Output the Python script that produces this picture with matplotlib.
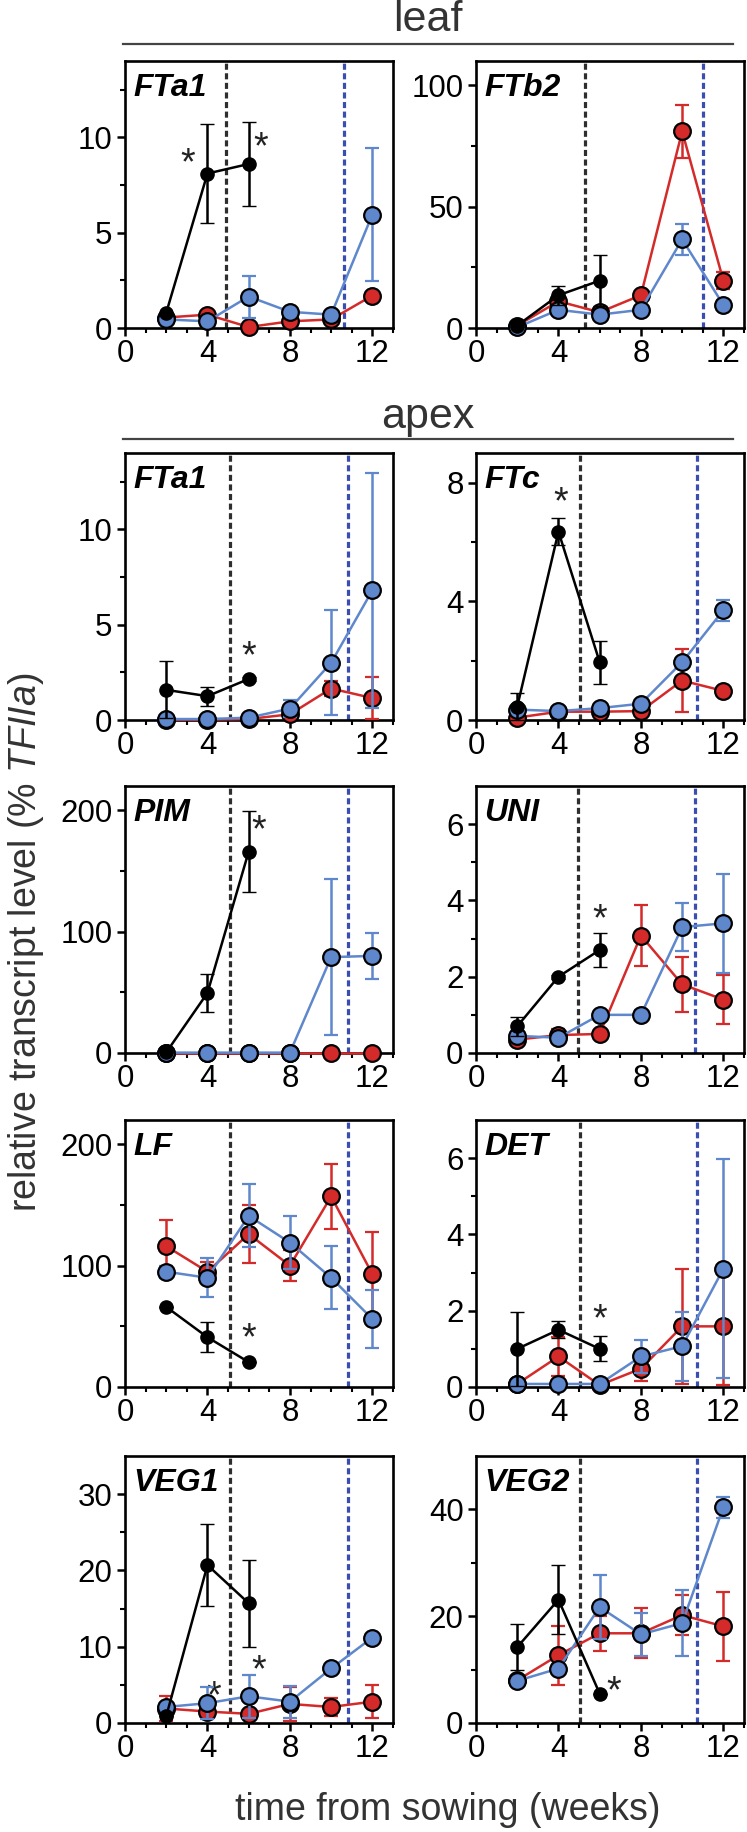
import matplotlib
matplotlib.use("Agg")
import matplotlib.pyplot as plt
import numpy as np

plt.rcParams['font.family'] = ['Liberation Sans', 'DejaVu Sans']
plt.rcParams['mathtext.fontset'] = 'custom'
plt.rcParams['mathtext.it'] = 'Liberation Sans:italic'
plt.rcParams['mathtext.rm'] = 'Liberation Sans'

weeks = [2, 4, 6, 8, 10, 12]
early_weeks = [2, 4, 6]

# leaf FTa1
leaf_fta1_black = [0.8, 8.1, 8.6]
leaf_fta1_black_err = [0, 2.6, 2.2]
leaf_fta1_red = [0.55, 0.7, 0.05, 0.35, 0.45, 1.7]
leaf_fta1_red_err = [0.1, 0.1, 0.05, 0.1, 0.1, 0.1]
leaf_fta1_blue = [0.45, 0.35, 1.65, 0.85, 0.7, 5.95]
leaf_fta1_blue_err = [0.1, 0.1, 1.1, 0.1, 0.1, 3.5]

# leaf FTb2
leaf_ftb2_black = [1, 13.5, 19.5]
leaf_ftb2_black_err = [0.5, 4, 10.5]
leaf_ftb2_red = [1, 11, 6.5, 13.5, 81, 19.5]
leaf_ftb2_red_err = [0.5, 1.5, 1, 1, 11, 3.5]
leaf_ftb2_blue = [0.3, 7.5, 5.5, 7.5, 36.5, 9.5]
leaf_ftb2_blue_err = [0.3, 1.5, 1, 1, 6.3, 2]

# apex FTa1
apex_fta1_black = [1.58, 1.25, 2.15]
apex_fta1_black_err = [1.5, 0.5, 0.1]
apex_fta1_red = [0.02, 0.02, 0.05, 0.3, 1.65, 1.15]
apex_fta1_red_err = [0, 0, 0, 0.1, 0.4, 1.1]
apex_fta1_blue = [0.05, 0.05, 0.12, 0.6, 3.0, 6.8]
apex_fta1_blue_err = [0, 0, 0.05, 0.45, 2.75, 6.15]

# apex FTc
ftc_black = [0.45, 6.35, 1.95]
ftc_black_err = [0.45, 0.45, 0.72]
ftc_red = [0.08, 0.28, 0.28, 0.3, 1.33, 0.98]
ftc_red_err = [0, 0.05, 0.05, 0.05, 1.05, 0.05]
ftc_blue = [0.35, 0.3, 0.4, 0.55, 1.95, 3.7]
ftc_blue_err = [0.05, 0.05, 0.05, 0.05, 0.1, 0.35]

# apex PIM
pim_black = [0.5, 49.5, 166]
pim_black_err = [0, 16, 33]
pim_red = [0.3, 0.3, 0.3, 0.3, 0.3, 0.3]
pim_red_err = [0, 0, 0, 0, 0, 0]
pim_blue = [0.3, 0.3, 0.3, 0.3, 79, 80]
pim_blue_err = [0, 0, 0, 0, 64, 19]

# apex UNI
uni_black = [0.7, 2.0, 2.7]
uni_black_err = [0.25, 0.05, 0.45]
uni_red = [0.35, 0.47, 0.5, 3.08, 1.8, 1.4]
uni_red_err = [0.05, 0.15, 0.05, 0.8, 0.72, 0.65]
uni_blue = [0.45, 0.4, 1.0, 1.0, 3.3, 3.4]
uni_blue_err = [0.05, 0.05, 0.05, 0.12, 0.62, 1.3]

# apex LF
lf_black = [66, 41, 20.5]
lf_black_err = [0, 12.5, 0]
lf_red = [116, 95, 126, 100, 157, 93]
lf_red_err = [22, 8, 24, 13, 27, 35]
lf_blue = [95, 90, 141, 119, 90, 56]
lf_blue_err = [5, 16, 26, 22, 26, 24]

# apex DET
det_black = [1.0, 1.5, 1.0]
det_black_err = [0.97, 0.22, 0.33]
det_red = [0.08, 0.8, 0.05, 0.48, 1.59, 1.59]
det_red_err = [0, 0.5, 0, 0.33, 1.5, 1.55]
det_blue = [0.08, 0.08, 0.08, 0.8, 1.07, 3.1]
det_blue_err = [0, 0, 0, 0.42, 0.9, 2.87]

# apex VEG1
veg1_black = [0.9, 20.7, 15.7]
veg1_black_err = [0, 5.4, 5.7]
veg1_red = [1.9, 1.5, 1.2, 2.5, 2.1, 2.8]
veg1_red_err = [1.7, 0.5, 0.4, 2.2, 1.2, 2.2]
veg1_blue = [2.1, 2.6, 3.5, 2.8, 7.15, 11.2]
veg1_blue_err = [0.5, 2.1, 2.8, 2.1, 0.3, 0.3]

# apex VEG2
veg2_black = [14.2, 23.1, 5.5]
veg2_black_err = [4.3, 6.4, 0]
veg2_red = [8.0, 12.7, 16.8, 16.8, 20.2, 18.1]
veg2_red_err = [0.5, 5.5, 3.3, 4.7, 3.8, 6.5]
veg2_blue = [7.9, 10.2, 21.7, 16.6, 18.7, 40.4]
veg2_blue_err = [0.5, 0.8, 6.0, 4.0, 6.2, 2.0]

RED = '#d42a2a'
BLUE = '#5f87cc'
BLUE_DASH = '#3a4db0'

W, H = 747, 1832
fig = plt.figure(figsize=(W / 100, H / 100), dpi=100)


def make_ax(x0, y0):
    # x0 = left edge px, y0 = y of zero line px (from top)
    return fig.add_axes([x0 / W, 1 - y0 / H, 268 / W, 267 / H])


def panel(ax, name, ymax, yticks, black, black_err, red, red_err, blue, blue_err,
          stars, vl=(5.1, 10.8)):
    ax.axvline(vl[0], color='#2e2e2e', lw=2.3, ls=(0, (1.9, 1.1)), zorder=1)
    ax.axvline(vl[1], color=BLUE_DASH, lw=2.3, ls=(0, (1.9, 1.1)), zorder=1)
    for sx, sy in stars:
        ax.text(sx, sy, '*', fontsize=27, ha='center', va='center',
                color='#222222', zorder=2)
    kw = dict(lw=1.8, capsize=5, capthick=1.8, elinewidth=1.8, marker='o',
              clip_on=False)
    ax.errorbar(weeks, red, yerr=red_err, color=RED, ms=12, mfc=RED,
                mec='black', mew=1.6, zorder=3, **kw)
    ax.errorbar(weeks, blue, yerr=blue_err, color=BLUE, ms=12, mfc=BLUE,
                mec='black', mew=1.6, zorder=4, **kw)
    ax.errorbar(early_weeks, black, yerr=black_err, color='black', ms=9.5,
                mfc='black', mec='black', mew=1, zorder=5, **kw)
    ax.set_xlim(0, 13)
    ax.set_ylim(0, ymax)
    ax.set_xticks([0, 4, 8, 12])
    ax.set_xticks(range(0, 14), minor=True)
    ax.set_yticks(yticks)
    step = yticks[1] - yticks[0]
    ax.set_yticks(np.arange(step / 2, ymax, step / 2), minor=True)
    for s in ax.spines.values():
        s.set_linewidth(1.9)
    ax.tick_params(which='major', length=6, width=1.8, labelsize=22.5, pad=3)
    ax.tick_params(axis='x', which='major', pad=2)
    ax.tick_params(which='minor', length=3.8, width=1.5)
    ax.text(0.03, 0.955, name, transform=ax.transAxes, fontsize=23,
            fontweight='bold', fontstyle='italic', ha='left', va='top',
            zorder=6)


LX, RX = 125, 476

ax = make_ax(LX, 328)
panel(ax, 'FTa1', 14, [0, 5, 10], leaf_fta1_black, leaf_fta1_black_err,
      leaf_fta1_red, leaf_fta1_red_err, leaf_fta1_blue, leaf_fta1_blue_err,
      [(3.05, 8.6), (6.6, 9.4)], vl=(4.9, 10.6))
ax = make_ax(RX, 328)
panel(ax, 'FTb2', 110, [0, 50, 100], leaf_ftb2_black, leaf_ftb2_black_err,
      leaf_ftb2_red, leaf_ftb2_red_err, leaf_ftb2_blue, leaf_ftb2_blue_err,
      [], vl=(5.3, 11.0))

ax = make_ax(LX, 720)
panel(ax, 'FTa1', 14, [0, 5, 10], apex_fta1_black, apex_fta1_black_err,
      apex_fta1_red, apex_fta1_red_err, apex_fta1_blue, apex_fta1_blue_err,
      [(6.0, 3.3)])
ax = make_ax(RX, 720)
panel(ax, 'FTc', 9, [0, 4, 8], ftc_black, ftc_black_err, ftc_red, ftc_red_err,
      ftc_blue, ftc_blue_err, [(4.1, 7.3)], vl=(5.05, 10.7))

ax = make_ax(LX, 1053)
panel(ax, 'PIM', 220, [0, 100, 200], pim_black, pim_black_err, pim_red,
      pim_red_err, pim_blue, pim_blue_err, [(6.5, 183)])
ax = make_ax(RX, 1053)
panel(ax, 'UNI', 7, [0, 2, 4, 6], uni_black, uni_black_err, uni_red,
      uni_red_err, uni_blue, uni_blue_err, [(6.0, 3.48)], vl=(4.95, 10.6))

ax = make_ax(LX, 1387)
panel(ax, 'LF', 220, [0, 100, 200], lf_black, lf_black_err, lf_red, lf_red_err,
      lf_blue, lf_blue_err, [(6.0, 39)])
ax = make_ax(RX, 1387)
panel(ax, 'DET', 7, [0, 2, 4, 6], det_black, det_black_err, det_red,
      det_red_err, det_blue, det_blue_err, [(6.0, 1.75)], vl=(5.05, 10.7))

ax = make_ax(LX, 1723)
panel(ax, 'VEG1', 35, [0, 10, 20, 30], veg1_black, veg1_black_err, veg1_red,
      veg1_red_err, veg1_blue, veg1_blue_err, [(6.5, 6.8), (4.3, 3.4)])
ax = make_ax(RX, 1723)
panel(ax, 'VEG2', 50, [0, 20, 40], veg2_black, veg2_black_err, veg2_red,
      veg2_red_err, veg2_blue, veg2_blue_err, [(6.7, 5.8)], vl=(5.05, 10.7))

# section headers
for label, ty, ly in [('leaf', 20, 44), ('apex', 417, 439)]:
    fig.text(428 / W, 1 - ty / H, label, fontsize=31, ha='center',
             va='center', color='#333333')
    fig.add_artist(plt.Line2D([123 / W, 733 / W], [1 - ly / H, 1 - ly / H],
                              color='#444444', lw=1.6))

fig.text(448 / W, 1 - 1810 / H, 'time from sowing (weeks)', fontsize=27,
         ha='center', va='center', color='#333333')
fig.text(26 / W, 1 - 942 / H, r'relative transcript level (% $\it{TFIIa}$)',
         fontsize=27, ha='center', va='center', rotation=90, color='#333333')

fig.savefig('out.png', dpi=100)
